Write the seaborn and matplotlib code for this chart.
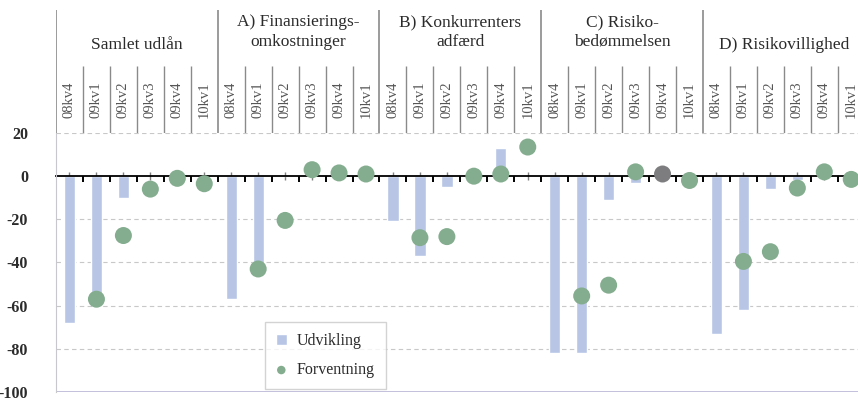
import numpy as np
import pandas as pd
import matplotlib
matplotlib.use("Agg")
import matplotlib.pyplot as plt
from matplotlib.ticker import FixedLocator, NullFormatter
import seaborn as sns

nan = np.nan

groups = ["Samlet udlån", "A) Finansierings-\nomkostninger", "B) Konkurrenters\nadfærd",
          "C) Risiko-\nbedømmelsen", "D) Risikovillighed"]
quarters = ["08kv4", "09kv1", "09kv2", "09kv3", "09kv4", "10kv1"]

# Udvikling (bars), one list per group
udv_samlet = [-68, -58, -10, nan, nan, nan]
udv_a = [-57, -42, 0, nan, nan, nan]
udv_b = [-21, -37, -5, 0, 13, nan]
udv_c = [-82, -82, -11, -3, nan, nan]
udv_d = [-73, -62, -6, -2, nan, nan]

# Forventning (dots)
forv_samlet = [nan, -57, -27.5, -6, -1, -3.5]
forv_a = [nan, -43, -20.5, 3, 1.5, 1]
forv_b = [nan, -28.5, -28, 0, 1, 13.5]
forv_c = [nan, -55.5, -50.5, 2, 1, -2]
forv_d = [nan, -39.5, -35, -5.5, 2, -1.5]

udvikling = udv_samlet + udv_a + udv_b + udv_c + udv_d
forventning = forv_samlet + forv_a + forv_b + forv_c + forv_d

df = pd.DataFrame({
    "pos": np.arange(len(udvikling)),
    "gruppe": np.repeat(groups, len(quarters)),
    "kvartal": quarters * len(groups),
    "Udvikling": udvikling,
    "Forventning": forventning,
})
grey_pt = (df["gruppe"] == groups[3]) & (df["kvartal"] == "09kv4")

sns.set_style("white")
plt.rcParams["font.family"] = ["Liberation Serif", "DejaVu Serif"]
plt.rcParams["axes.unicode_minus"] = False

bar_col = "#b0c2ec"
dot_col = "#84ad8f"
txt_col = "#2b2b2b"

W, H = 858, 403
fig = plt.figure(figsize=(W / 100, H / 100), dpi=100)
ax = fig.add_axes([56 / W, 1 - 392 / H, 802 / W, 259 / H])
hx = fig.add_axes([56 / W, 1 - 133 / H, 802 / W, 128 / H])

sns.barplot(data=df, x="pos", y="Udvikling", native_scale=True, width=0.42,
            color=bar_col, errorbar=None, label="Udvikling", ax=ax)
sns.scatterplot(data=df[~grey_pt], x="pos", y="Forventning", s=150, color=dot_col,
                edgecolor="none", label="Forventning", ax=ax, zorder=3)
sns.scatterplot(data=df[grey_pt], x="pos", y="Forventning", s=150, color="#7d7d80",
                edgecolor="none", legend=False, ax=ax, zorder=3)

n = len(df)
ax.set_xlim(-0.5, 29.25)
ax.set_ylim(-100, 20)
ax.set_xlabel("")
ax.set_ylabel("")
ax.set_yticks(range(-100, 21, 20))
ax.tick_params(axis="y", length=0, pad=20, labelsize=11.5, labelcolor=txt_col)
for t in ax.get_yticklabels():
    t.set_fontweight("bold")

for v in [20, -20, -40, -60, -80]:
    ax.axhline(v, color="#c8c8c8", lw=0.8, ls=(0, (4, 3)), zorder=0)
ax.axhline(-100, color="#b9b5d6", lw=1.2, zorder=0)

for s in ["top", "right"]:
    ax.spines[s].set_visible(False)
ax.spines["left"].set_color("#c8c8cc")
ax.spines["bottom"].set_position(("data", 0))
ax.spines["bottom"].set_color("black")
ax.spines["bottom"].set_linewidth(1.3)
ax.spines["bottom"].set_zorder(2)
ax.xaxis.set_major_locator(FixedLocator(np.arange(n) + 0.5))
ax.xaxis.set_minor_locator(FixedLocator(np.arange(n)))
ax.xaxis.set_major_formatter(NullFormatter())
ax.tick_params(axis="x", which="major", bottom=True, direction="out", length=4,
               width=1.4, color="black")
ax.tick_params(axis="x", which="minor", bottom=True, direction="inout", length=6,
               width=1, color="#808080")

handles, labels = ax.get_legend_handles_labels()
order = [labels.index("Udvikling"), labels.index("Forventning")]
leg = ax.legend([handles[i] for i in order], [labels[i] for i in order],
                loc="lower left", bbox_to_anchor=(0.26, 0.01), fontsize=11.5,
                frameon=True, fancybox=False, edgecolor="#c8c8c8", borderpad=0.7,
                labelspacing=0.8, handlelength=0.7, handleheight=0.7, handletextpad=0.6,
                borderaxespad=0, markerscale=0.5)
for t in leg.get_texts():
    t.set_color(txt_col)

# header table above the plot
hx.set_xlim(ax.get_xlim())
hx.set_ylim(0, 1)
hx.axis("off")
ng = len(quarters)
for g, name in enumerate(groups):
    hx.vlines(g * ng - 0.5, 0, 0.96, color="#8a8a8a", lw=1.2)
    yy = 0.79 if "\n" in name else 0.69
    hx.text(g * ng + (ng - 1) / 2, yy, name, ha="center", va="center", fontsize=12.5,
            color=txt_col, linespacing=1.3)
    for q, lab in enumerate(quarters):
        i = g * ng + q
        if q > 0:
            hx.vlines(i - 0.5, 0, 0.52, color="#8a8a8a", lw=1)
        hx.text(i, 0.26, lab, rotation=90, ha="center", va="center", fontsize=10.5,
                color="#555555")

fig.savefig("out.png", dpi=100)
